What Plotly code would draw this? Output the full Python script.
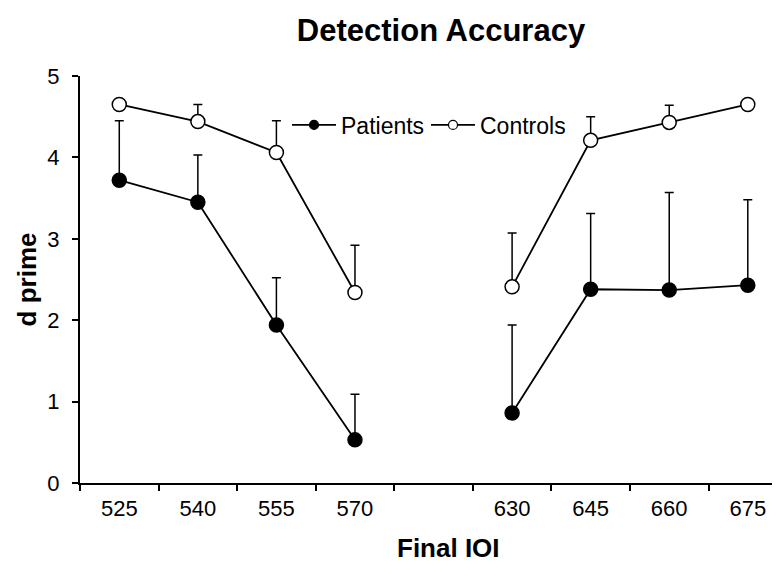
import plotly.graph_objects as go

# Data
ioi_labels = ["525", "540", "555", "570", "630", "645", "660", "675"]
axis_categories = ["525", "540", "555", "570", " ", "630", "645", "660", "675"]

patients_mean = [3.72, 3.45, 1.94, 0.53, 0.86, 2.38, 2.37, 2.43]
patients_upper = [4.45, 4.03, 2.52, 1.09, 1.94, 3.31, 3.57, 3.48]

controls_mean = [4.65, 4.44, 4.06, 2.34, 2.41, 4.21, 4.43, 4.65]
controls_upper = [4.65, 4.65, 4.45, 2.92, 3.07, 4.50, 4.64, 4.65]

FONT = "Liberation Sans, Arial, Helvetica, sans-serif"

# page has an 8px body margin; figure is sized so it fills the 780x577 window
W, H = 772, 569
OFF = 8


def with_gap(values):
    # insert an empty slot between 570 and 630 so the line breaks there
    return values[:4] + [None] + values[4:]


x_vals = with_gap(ioi_labels)
x_vals[4] = " "

fig = go.Figure()


def add_series(name, mean, upper, fill):
    err = [u - m for u, m in zip(upper, mean)]
    fig.add_trace(go.Scatter(
        x=x_vals,
        y=with_gap(mean),
        mode="lines+markers",
        name=name,
        showlegend=False,
        connectgaps=False,
        line=dict(color="black", width=1.8),
        marker=dict(size=14, color=fill, line=dict(color="black", width=1.5)),
        error_y=dict(type="data", symmetric=False, array=with_gap(err),
                     arrayminus=[0] * 9, color="black", thickness=1.5, width=4.5),
        cliponaxis=False,
    ))
    # legend-only entry with smaller symbol
    fig.add_trace(go.Scatter(
        x=[None], y=[None], mode="lines+markers", name=name,
        line=dict(color="black", width=1.8),
        marker=dict(size=9, color=fill, line=dict(color="black", width=1.2)),
    ))


add_series("Patients", patients_mean, patients_upper, "black")
add_series("Controls", controls_mean, controls_upper, "white")

ml, mt = 80 - OFF, 76 - OFF
plot_bottom = 483.3 - OFF
mb = H - plot_bottom
pw = W - ml
ph = plot_bottom - mt

fig.update_layout(
    width=W, height=H,
    margin=dict(l=ml, r=0, t=mt, b=mb),
    paper_bgcolor="white", plot_bgcolor="white",
    font=dict(family=FONT, color="black", size=22),
    title=dict(text="<b>Detection Accuracy</b>", font=dict(size=31, family=FONT, color="black"),
               x=(441 - OFF) / W, xref="container", xanchor="center",
               y=1 - (30 - OFF) / H, yref="container", yanchor="middle"),
    showlegend=True,
    legend=dict(orientation="h", x=(287 - 80) / pw, xanchor="left",
                y=(483.3 - 125) / ph, yanchor="middle",
                font=dict(size=23, family=FONT, color="black"),
                bgcolor="rgba(0,0,0,0)", itemwidth=44, tracegroupgap=0,
                entrywidth=80, entrywidthmode="pixels",
                traceorder="normal"),
    xaxis=dict(
        type="category", categoryorder="array", categoryarray=axis_categories,
        range=[-0.5, 8.41],
        showline=True, linecolor="black", linewidth=2,
        ticks="outside", tickson="boundaries", ticklen=6, tickwidth=2, tickcolor="black",
        showgrid=False, zeroline=False,
        tickfont=dict(size=22, family=FONT, color="black"),
        ticklabelstandoff=5,
    ),
    yaxis=dict(
        range=[0, 5], tickvals=[0, 1, 2, 3, 4, 5],
        showline=True, linecolor="black", linewidth=2,
        ticks="outside", ticklen=6, tickwidth=2, tickcolor="black",
        showgrid=False, zeroline=False,
        tickfont=dict(size=22, family=FONT, color="black"),
        ticklabelstandoff=8,
        title=dict(text="<b>d prime</b>", font=dict(size=26, family=FONT, color="black"),
                   standoff=3),
    ),
    annotations=[dict(
        text="<b>Final IOI</b>", xref="paper", yref="paper",
        x=(448 - 80) / pw, y=-(548 - 483.3) / ph, xanchor="center", yanchor="middle",
        showarrow=False, font=dict(size=26, family=FONT, color="black"),
    )],
)

fig.write_html("out.html")
